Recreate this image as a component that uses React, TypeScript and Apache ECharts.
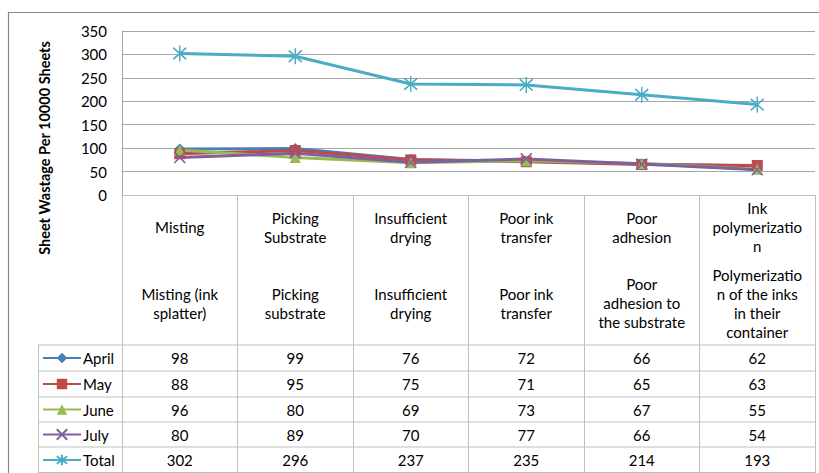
import React, { useEffect, useRef } from "react";
import * as echarts from "echarts";

const shortLabels = [
  "Misting",
  "Picking\nSubstrate",
  "Insufficient\ndrying",
  "Poor ink\ntransfer",
  "Poor\nadhesion",
  "Ink\npolymerizatio\nn",
];
const longLabels = [
  "Misting (ink\nsplatter)",
  "Picking\nsubstrate",
  "Insufficient\ndrying",
  "Poor ink\ntransfer",
  "Poor\nadhesion to\nthe substrate",
  "Polymerizatio\nn of the inks\nin their\ncontainer",
];
const april = [98, 99, 76, 72, 66, 62];
const may = [88, 95, 75, 71, 65, 63];
const june = [96, 80, 69, 73, 67, 55];
const july = [80, 89, 70, 77, 66, 54];
const total = [302, 296, 237, 235, 214, 193];
const yTicks = { min: 0, max: 350, interval: 50 };
const yTitle = "Sheet Wastage Per 10000 Sheets";

const FONT = "Lato, 'Liberation Sans', sans-serif";

export default function App() {
  const ref = useRef<HTMLDivElement>(null);
  useEffect(() => {
    if (!ref.current) return;
    const chart = echarts.init(ref.current, undefined, { renderer: "svg" });

    const seriesDefs = [
      { name: "April", data: april, color: "#4A7EBB", symbol: "diamond", size: 11 },
      { name: "May", data: may, color: "#BE4B48", symbol: "rect", size: 11 },
      { name: "June", data: june, color: "#98B954", symbol: "triangle", size: 11 },
      { name: "July", data: july, color: "#7D60A0", symbol: "path://M0,0L10,10M10,0L0,10", size: 11 },
      { name: "Total", data: total, color: "#4BACC6", symbol: "path://M0,0L10,10M10,0L0,10M5,-2L5,12", size: [13, 16] },
    ];

    const rowCenters = [358, 384, 409.5, 434.5, 460];
    const axisY = 195;
    const tableLine = "#bfbfbf";

    const baseX = {
      type: "category" as const,
      position: "bottom" as const,
      boundaryGap: true,
      axisLine: { show: false },
      axisTick: { show: false },
      splitLine: { show: false },
    };

    const xAxes: any[] = [
      {
        ...baseX,
        data: shortLabels,
        axisLine: { show: true, lineStyle: { color: tableLine, width: 1 } },
        axisTick: { show: true, length: 278, lineStyle: { color: tableLine, width: 1 } },
        axisLabel: {
          interval: 0,
          margin: 32,
          verticalAlign: "middle",
          fontFamily: FONT,
          fontSize: 15,
          lineHeight: 19,
          color: "#000",
          hideOverlap: false,
        },
      },
      {
        ...baseX,
        data: longLabels,
        axisLabel: {
          interval: 0,
          margin: 108,
          verticalAlign: "middle",
          fontFamily: FONT,
          fontSize: 15,
          lineHeight: 19,
          color: "#000",
          hideOverlap: false,
        },
      },
      ...seriesDefs.map((s, i) => ({
        ...baseX,
        data: shortLabels,
        axisLabel: {
          interval: 0,
          margin: rowCenters[i] - axisY,
          verticalAlign: "middle",
          fontFamily: FONT,
          fontSize: 15,
          color: "#000",
          hideOverlap: false,
          formatter: (_v: string, idx: number) => String(s.data[idx]),
        },
      })),
    ];

    const rowLines = [345, 371, 397, 422, 447, 472.5];
    const graphic: any[] = [
      {
        type: "rect",
        shape: { x: 8.5, y: 12.5, width: 830, height: 500 },
        style: { fill: "none", stroke: "#878787", lineWidth: 1.2 },
        silent: true,
      },
      ...rowLines.map((y) => ({
        type: "line",
        shape: { x1: 38, y1: y, x2: 815, y2: y },
        style: { stroke: tableLine, lineWidth: 1 },
        silent: true,
      })),
      {
        type: "line",
        shape: { x1: 38.5, y1: 345, x2: 38.5, y2: 473 },
        style: { stroke: tableLine, lineWidth: 1 },
        silent: true,
      },
      {
        type: "text",
        x: 44,
        y: 148,
        rotation: Math.PI / 2,
        style: {
          text: yTitle,
          fontFamily: FONT,
          fontWeight: "bold",
          fontSize: 14.5,
          fill: "#000",
          textAlign: "center",
          textVerticalAlign: "middle",
        },
        silent: true,
      },
    ];

    const legends = seriesDefs.map((s, i) => ({
      orient: "horizontal",
      left: 42,
      top: rowCenters[i] - 9,
      height: 18,
      padding: 0,
      itemWidth: 38,
      itemHeight: 13,
      textStyle: { fontFamily: FONT, fontSize: 15, color: "#000", lineHeight: 18, padding: [0, 0, 0, -3] },
      data: [s.name],
    }));

    chart.setOption({
      animation: false,
      backgroundColor: "#fff",
      grid: { left: 122, right: 4, top: 31, bottom: 278, containLabel: false },
      legend: legends,
      xAxis: xAxes,
      yAxis: {
        type: "value",
        min: yTicks.min,
        max: yTicks.max,
        interval: yTicks.interval,
        axisLine: { show: true, lineStyle: { color: "#a6a6a6" } },
        axisTick: { show: false },
        splitLine: { lineStyle: { color: "#a6a6a6", width: 1 } },
        axisLabel: { fontFamily: FONT, fontSize: 15, color: "#000", margin: 15 },
      },
      graphic,
      series: seriesDefs.map((s) => ({
        name: s.name,
        type: "line",
        xAxisIndex: 0,
        data: s.data,
        symbol: s.symbol,
        symbolSize: s.size,
        showSymbol: true,
        lineStyle: { color: s.color, width: 3 },
        itemStyle: { color: s.color, borderColor: s.color, borderWidth: s.symbol.startsWith("path") ? 1.6 : 0 },
      })),
    });

    return () => chart.dispose();
  }, []);

  return (
    <div
      ref={ref}
      style={{ position: "fixed", left: 0, top: 0, width: 819, height: 473 }}
    />
  );
}
